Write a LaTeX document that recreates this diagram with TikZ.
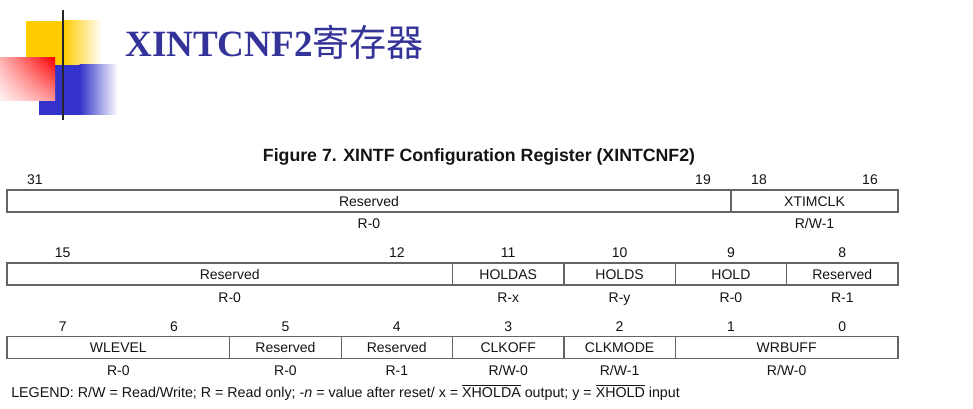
\documentclass[tikz,border=0pt]{standalone}
\usepackage{fontspec}
\usetikzlibrary{shadings}
\setmainfont{Liberation Sans}
\newfontfamily\headserif{Liberation Serif}
\newfontfamily\cjk{Noto Sans CJK SC}
\definecolor{titleblue}{RGB}{51,51,153}
\definecolor{decoyellow}{RGB}{255,204,0}
\definecolor{decoblue}{RGB}{51,51,204}
\definecolor{decored}{RGB}{255,0,0}
\definecolor{txt}{RGB}{20,20,20}
\definecolor{boxgray}{RGB}{100,100,100}

% one register field: name, left x, right x, top y of the row, field name, access text
\newcommand\regfield[6]{%
  \node[field, minimum width={(#3-#2)*0.75pt}] (#1) at ({(#2+#3)/2},{#4+11}) {#5};
  \node[acc] (#1-acc) at ({(#2+#3)/2},{#4+39}) {#6};}
% bit number above a field row
\newcommand\bitno[3]{\node[bitnum] (#1) at (#2,{#3-5}) {#1};}

\begin{document}
\begin{tikzpicture}[x=0.75pt,y=-0.75pt,
  field/.style={draw=boxgray, line width=0.9pt, minimum height=16.5pt,
    inner sep=0pt, outer sep=0pt, text=txt, font=\fontsize{10.5}{12}\selectfont,
    text height=7.6pt, text depth=0pt},
  acc/.style={anchor=base, inner sep=0pt, text=txt, font=\fontsize{10.5}{12}\selectfont},
  bitnum/.style={anchor=base, inner sep=0pt, text=txt, font=\fontsize{10.5}{12}\selectfont}]
\useasboundingbox (0,0) rectangle (973,409);
\fill[white] (0,0) rectangle (973,409);

% corner ornament
\fill[decoyellow] (26,21) rectangle (64,65);
\shade[left color=decoyellow, right color=white] (63.5,21) rectangle (102,65);
\fill[decoblue] (39,65) rectangle (80,115);
\shade[left color=decoblue, right color=white] (79.5,65) rectangle (118,115);
\shade[upper left=decored!30, upper right=decored, lower left=decored!4, lower right=decored!40]
  (0,58) rectangle (55,101);
\draw[line width=1.9pt, black!85] (63,10) -- (63,120);

% slide heading
\node[anchor=base west, inner sep=0pt, text=titleblue] (heading) at (125,57)
  {\fontsize{27.8}{32}\headserif\bfseries XINTCNF2\cjk\mdseries 寄存器};

% figure caption
\node[anchor=base, inner sep=0pt, text=txt] (caption) at (479,162)
  {\fontsize{13.3}{15}\selectfont\bfseries Figure 7. XINTF Configuration Register (XINTCNF2)};

% row 1: bits 31-16
\bitno{31}{35}{190}
\bitno{19}{703}{190}
\bitno{18}{759}{190}
\bitno{16}{870}{190}
\regfield{rsv31}{7}{731}{190}{Reserved}{R-0}
\regfield{xtimclk}{731}{898}{190}{XTIMCLK}{R/W-1}

% row 2: bits 15-8
\bitno{15}{62.7}{263}
\bitno{12}{396.8}{263}
\bitno{11}{508.2}{263}
\bitno{10}{619.6}{263}
\bitno{9}{731}{263}
\bitno{8}{842.3}{263}
\regfield{rsv15}{7}{452.5}{263}{Reserved}{R-0}
\regfield{holdas}{452.5}{563.9}{263}{HOLDAS}{R-x}
\regfield{holds}{563.9}{675.25}{263}{HOLDS}{R-y}
\regfield{hold}{675.25}{786.6}{263}{HOLD}{R-0}
\regfield{rsv8}{786.6}{898}{263}{Reserved}{R-1}

% row 3: bits 7-0
\bitno{7}{62.7}{336.5}
\bitno{6}{174.1}{336.5}
\bitno{5}{285.4}{336.5}
\bitno{4}{396.8}{336.5}
\bitno{3}{508.2}{336.5}
\bitno{2}{619.6}{336.5}
\bitno{1}{731}{336.5}
\bitno{0}{842.3}{336.5}
\regfield{wlevel}{7}{229.75}{336.5}{WLEVEL}{R-0}
\regfield{rsv5}{229.75}{341.1}{336.5}{Reserved}{R-0}
\regfield{rsv4}{341.1}{452.5}{336.5}{Reserved}{R-1}
\regfield{clkoff}{452.5}{563.9}{336.5}{CLKOFF}{R/W-0}
\regfield{clkmode}{563.9}{675.25}{336.5}{CLKMODE}{R/W-1}
\regfield{wrbuff}{675.25}{898}{336.5}{WRBUFF}{R/W-0}

% legend
\node[anchor=base west, inner sep=0pt, text=txt, font=\fontsize{10.7}{12}\selectfont] (legend) at (11,397)
  {LEGEND: R/W = Read/Write; R = Read only; -\textit{n} = value after reset/ x = $\overline{\mbox{XHOLDA}}$ output; y = $\overline{\mbox{XHOLD}}$ input};
\end{tikzpicture}
\end{document}
